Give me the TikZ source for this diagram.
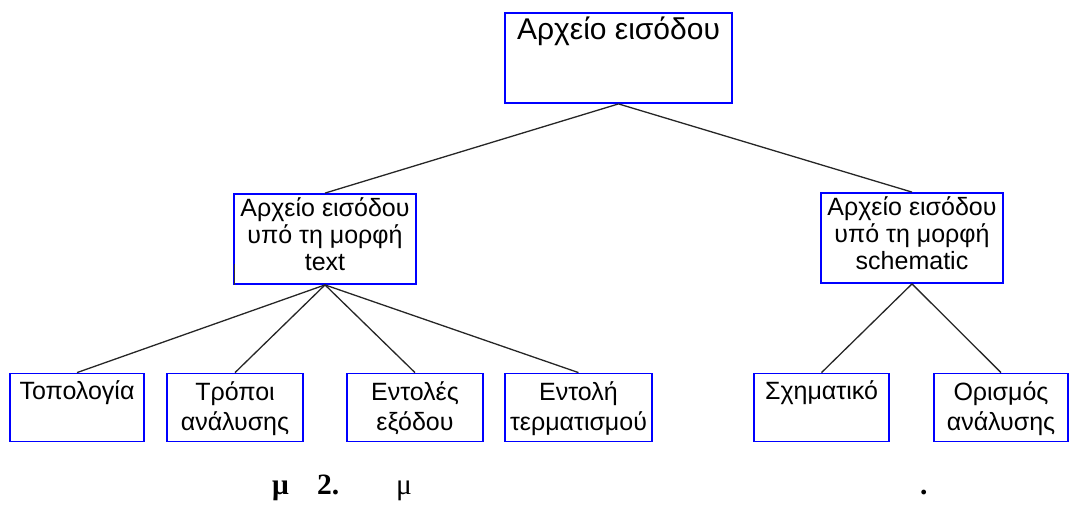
\documentclass[tikz,border=0pt]{standalone}
\usepackage{fontspec}
\setmainfont{Liberation Sans}
\newfontfamily\boxfont{Liberation Sans}
\newfontfamily\capfont{Liberation Serif}
\begin{document}
\begin{tikzpicture}[x=1pt,y=-1pt,
  box/.style={draw=blue, line width=1.8pt, rectangle, inner sep=0pt, fill=none},
  link/.style={draw=black!85, line width=1.3pt},
  bigtxt/.style={anchor=base, inner sep=0pt, align=center, font=\boxfont\fontsize{30}{34}\selectfont},
  midtxt/.style={anchor=base, inner sep=0pt, align=center, font=\boxfont\fontsize{25}{27}\selectfont},
  txt/.style={anchor=base, inner sep=0pt, align=center, font=\boxfont\fontsize{25}{30}\selectfont},
  captxt/.style={anchor=base west, inner sep=0pt, font=\capfont\fontsize{29.5}{32}\selectfont},
  capbold/.style={captxt, font=\capfont\bfseries\fontsize{29.5}{32}\selectfont}]
\useasboundingbox (0,0) rectangle (1072,509);

% boxes
\node[box, minimum width=227pt, minimum height=90pt] (root) at (618.5,58) {};
\node[box, minimum width=182pt, minimum height=90pt] (textin) at (325,239) {};
\node[box, minimum width=182pt, minimum height=90pt] (schin) at (912,238) {};
\node[box, minimum width=134pt, minimum height=68pt] (topo) at (77,407.5) {};
\node[box, minimum width=136pt, minimum height=68pt] (anal) at (235,407.5) {};
\node[box, minimum width=136pt, minimum height=68pt] (outc) at (415,407.5) {};
\node[box, minimum width=147pt, minimum height=68pt] (endc) at (578.5,407.5) {};
\node[box, minimum width=135pt, minimum height=68pt] (schem) at (821.5,407.5) {};
\node[box, minimum width=134pt, minimum height=68pt] (adef) at (1001,407.5) {};

% dark stroke on the lower left edge of the text box
\draw[black!80, line width=1pt] ([xshift=1.5pt,yshift=21pt]textin.south west) -- ([xshift=1.5pt]textin.south west);

% labels (base anchor = baseline of the last line)
\node[bigtxt] (rootl) at (618.5,39) {Αρχείο εισόδου};
\node[midtxt] (textinl) at (325,270) {Αρχείο εισόδου\\υπό τη μορφή\\text};
\node[midtxt] (schinl) at (912,269) {Αρχείο εισόδου\\υπό τη μορφή\\schematic};
\node[txt] (topol) at (77,399) {Τοπολογία};
\node[txt] (anall) at (235,430) {Τρόποι\\ανάλυσης};
\node[txt] (outcl) at (415,430) {Εντολές\\εξόδου};
\node[txt] (endcl) at (578.5,430) {Εντολή\\τερματισμού};
\node[txt] (scheml) at (821.5,399) {Σχηματικό};
\node[txt] (adefl) at (1001,430) {Ορισμός\\ανάλυσης};

% connectors
\draw[link] (root.south) -- (textin.north);
\draw[link] (root.south) -- (schin.north);
\foreach \c in {topo,anal,outc,endc} \draw[link] (textin.south) -- (\c.north);
\foreach \c in {schem,adef} \draw[link] (schin.south) -- (\c.north);

% caption
\node[capbold] (cap1) at (272,494) {μ};
\node[capbold] (cap2) at (317,494) {2.};
\node[captxt] (cap3) at (396,494) {μ};
\node[capbold] (cap4) at (920,494) {.};
\end{tikzpicture}
\end{document}
